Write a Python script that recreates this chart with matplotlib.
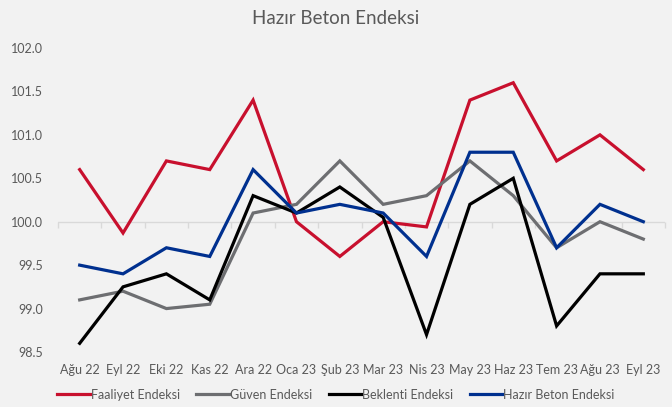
import numpy as np
import matplotlib.pyplot as plt

months = ['Ağu 22', 'Eyl 22', 'Eki 22', 'Kas 22', 'Ara 22', 'Oca 23', 'Şub 23',
          'Mar 23', 'Nis 23', 'May 23', 'Haz 23', 'Tem 23', 'Ağu 23', 'Eyl 23']
faaliyet = [100.6, 99.87, 100.7, 100.6, 101.4, 100.0, 99.6, 100.0, 99.94, 101.4, 101.6, 100.7, 101.0, 100.6]
guven = [99.1, 99.2, 99.0, 99.05, 100.1, 100.2, 100.7, 100.2, 100.3, 100.7, 100.3, 99.7, 100.0, 99.8]
beklenti = [98.6, 99.25, 99.4, 99.1, 100.3, 100.1, 100.4, 100.05, 98.7, 100.2, 100.5, 98.8, 99.4, 99.4]
hazir_beton = [99.5, 99.4, 99.7, 99.6, 100.6, 100.1, 100.2, 100.1, 99.6, 100.8, 100.8, 99.7, 100.2, 100.0]

series = [('Faaliyet Endeksi', faaliyet, '#C8102E'),
          ('Güven Endeksi', guven, '#6D6E71'),
          ('Beklenti Endeksi', beklenti, '#000000'),
          ('Hazır Beton Endeksi', hazir_beton, '#00308F')]

plt.rcParams['font.family'] = ['Lato', 'DejaVu Sans']
bg = '#F2F2F2'
txt = '#595959'

fig = plt.figure(figsize=(6.72, 4.07), dpi=100, facecolor=bg)
ax = fig.add_axes([58/672, 55/407, 607/672, 304/407], facecolor=bg)

x = np.arange(len(months))
ymin, ymax = 98.5, 102.0
ax.axhline(100, color='#D9D9D9', lw=1, zorder=0)
for name, vals, col in series:
    ax.plot(x, vals, color=col, lw=2.3, label=name, solid_joinstyle='miter')

ax.set_ylim(ymin, ymax)
ax.set_xlim(-0.5, len(months) - 0.5)
ax.set_yticks(np.arange(98.5, 102.01, 0.5))
ax.set_yticklabels([f'{v:.1f}' for v in np.arange(98.5, 102.01, 0.5)])
ax.set_xticks(x)
ax.set_xticklabels(months)
ax.tick_params(axis='both', length=0, labelsize=9, labelcolor=txt)
ax.tick_params(axis='x', pad=9)
ax.tick_params(axis='y', pad=11)
for s in ax.spines.values():
    s.set_visible(False)

# category axis crossing at 100, with boundary tick marks
sec = ax.secondary_xaxis((100 - ymin) / (ymax - ymin))
sec.set_xticks(np.arange(-0.5, len(months), 1.0))
sec.set_xticklabels([])
sec.xaxis.set_ticks_position('bottom')
sec.tick_params(axis='x', direction='out', length=4, width=1, color='#D9D9D9')
for s in sec.spines.values():
    s.set_visible(False)

fig.suptitle('Hazır Beton Endeksi', y=0.975, fontsize=13.5, color=txt)
fig.legend(loc='center', bbox_to_anchor=(0.5, 0.03), ncol=4, frameon=False,
           fontsize=9, labelcolor=txt, handlelength=2.6, handletextpad=0.1,
           columnspacing=1.3)

fig.savefig('out.png', dpi=100, facecolor=bg)
